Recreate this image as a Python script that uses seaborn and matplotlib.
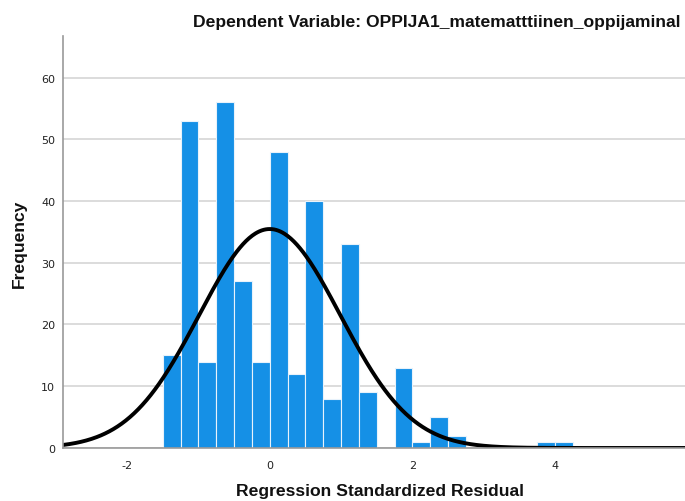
import numpy as np
import pandas as pd
import matplotlib
matplotlib.use("Agg")
import matplotlib.pyplot as plt
import seaborn as sns

# ---- data ----
BIN_START = -1.5
BIN_WIDTH = 0.25
COUNTS = [15, 53, 14, 56, 27, 14, 48, 12, 40, 8, 33, 9, 0, 13, 1, 5, 2, 0, 0, 0, 0, 1, 1]
RESID_MEAN = 0.0
RESID_STD = 0.99
X_TICKS = [-2, 0, 2, 4]
Y_TICKS = [0, 10, 20, 30, 40, 50, 60]
X_LIM = (-2.89, 5.82)
Y_LIM = (0, 66.7)
TITLE = "Dependent Variable: OPPIJA1_matematttiinen_oppijaminal"
XLABEL = "Regression Standardized Residual"
YLABEL = "Frequency"

sns.set_theme(style="white")
plt.rcParams['font.family'] = ['DejaVu Sans']
plt.rcParams['axes.unicode_minus'] = False

n_bins = len(COUNTS)
bin_end = BIN_START + BIN_WIDTH * n_bins
centers = BIN_START + BIN_WIDTH * (np.arange(n_bins) + 0.5)
df = pd.DataFrame({"resid": centers, "count": COUNTS})
df = df[df["count"] > 0]
N = sum(COUNTS)

fig = plt.figure(figsize=(6.85, 5.02), dpi=100)
ax = fig.add_axes([0.0927, 0.1056, 1.0 - 0.0927, 0.926 - 0.1056])

ax.set_axisbelow(True)
ax.yaxis.grid(True, color="#d2d2d2", linewidth=1.1)
ax.xaxis.grid(False)

sns.histplot(data=df, x="resid", weights="count", binwidth=BIN_WIDTH,
             binrange=(BIN_START, bin_end), ax=ax,
             color="#1590E6", alpha=1.0, edgecolor="#e8f2fb", linewidth=0.8)

xs = np.linspace(X_LIM[0], X_LIM[1], 600)
pdf = np.exp(-0.5 * ((xs - RESID_MEAN) / RESID_STD) ** 2) / (RESID_STD * np.sqrt(2 * np.pi))
curve = pd.DataFrame({"x": xs, "y": pdf * N * BIN_WIDTH})
sns.lineplot(data=curve, x="x", y="y", ax=ax, color="black", linewidth=2.8)

ax.set_xlim(*X_LIM)
ax.set_ylim(*Y_LIM)
ax.set_xticks(X_TICKS)
ax.set_yticks(Y_TICKS)
ax.tick_params(axis="both", length=0, labelsize=8, colors="#222222", pad=6)
ax.tick_params(axis="x", pad=9)

for s in ["top", "right"]:
    ax.spines[s].set_visible(False)
for s in ["left", "bottom"]:
    ax.spines[s].set_color("#999999")
    ax.spines[s].set_linewidth(1.2)

ax.set_xlabel("")
ax.set_ylabel("")

LABEL_FONT = ["Liberation Sans", "DejaVu Sans"]
renderer = fig.canvas.get_renderer()


def fit_text(t, target_w, start=14.0):
    size = start
    t.set_fontsize(size)
    while size > 6:
        w = t.get_window_extent(renderer).width
        if w <= target_w:
            break
        size -= 0.1
        t.set_fontsize(size)
    return t


xl = fig.text(380 / 685, 1 - 492 / 502, XLABEL, ha="center", va="center",
              fontweight="bold", color="#111111", family=LABEL_FONT)
fit_text(xl, 291)
yl = fig.text(19 / 685, 1 - 244 / 502, YLABEL, ha="center", va="center", rotation=90,
              fontweight="bold", color="#111111", family=LABEL_FONT,
              fontsize=xl.get_fontsize())
tt = fig.text(193 / 685, 1 - 22 / 502, TITLE, ha="left", va="center",
              fontweight="bold", color="#111111", family=LABEL_FONT)
fit_text(tt, 685 - 193 - 2)

fig.savefig("out.png", dpi=100)
